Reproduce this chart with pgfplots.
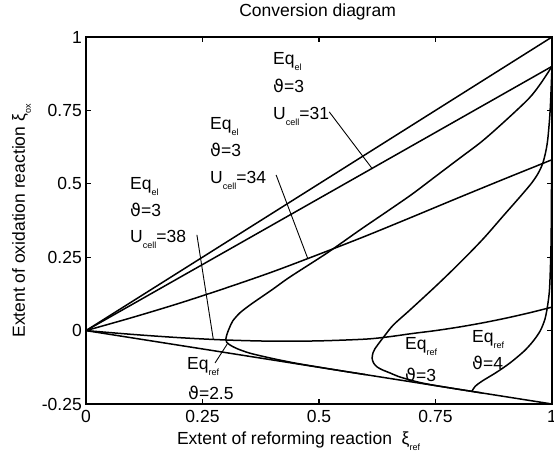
\documentclass[border=0pt]{standalone}
\usepackage{pgfplots}
\pgfplotsset{compat=1.18}
\usepackage{fontspec}
\setmainfont{Liberation Sans}
\newfontfamily\dv{DejaVu Sans}
\newcommand{\sub}[1]{\raisebox{-6bp}{\fontsize{9bp}{9bp}\selectfont #1}}
\newcommand{\vt}{{\dv ϑ}}
\begin{document}
\begin{tikzpicture}[font=\fontsize{17.5bp}{21bp}\selectfont]
\begin{axis}[
  at={(86bp,55bp)}, anchor=south west, scale only axis,
  width=466bp, height=367bp,
  xmin=0, xmax=1, ymin=-0.25, ymax=1,
  xtick={0,0.25,0.5,0.75,1}, xticklabels={0,0.25,0.5,0.75,1},
  ytick={-0.25,0,0.25,0.5,0.75,1}, yticklabels={-0.25,0,0.25,0.5,0.75,1},
  tick align=inside, major tick length=5bp,
  every tick/.style={black, line width=1.2bp},
  axis line style={line width=1.2bp},
  xticklabel style={inner sep=0pt, yshift=-6bp},
  yticklabel style={inner sep=0pt, xshift=-4bp},
  title={Conversion diagram},
  title style={at={(axis description cs:0.497,1.0395)}, anchor=base, inner sep=0pt},
  xlabel={Extent of reforming reaction\ \ ξ\sub{ref}},
  xlabel style={at={(axis description cs:0.195,-0.1117)}, anchor=base west, inner sep=0pt},
  ylabel={Extent of oxidation reaction ξ\sub{ox}},
  ylabel style={at={(axis description cs:-0.1309,0.4986)}, anchor=base, inner sep=0pt},
  cycle list={{black, line width=1.5bp}},
  every axis plot/.append style={black, line width=1.5bp, no marks},
]
% Eq lines
\addplot[black, line width=1.5bp] coordinates {(0,0) (1,1)};
\addplot[black, line width=1.5bp] coordinates {(0,0) (1,0.9)};
\addplot[smooth] coordinates {(0,0) (0.1,0.045) (0.2,0.093) (0.3,0.145) (0.4,0.2) (0.5,0.26) (0.6,0.322) (0.7,0.387) (0.8,0.453) (0.9,0.518) (1,0.582)};
\addplot[smooth] coordinates {(0,0) (0.1,-0.013) (0.2,-0.024) (0.3,-0.032) (0.4,-0.036) (0.5,-0.035) (0.6,-0.029) (0.65,-0.021) (0.7,-0.01) (0.75,0.0) (0.8,0.012) (0.85,0.026) (0.9,0.042) (0.95,0.06) (1,0.08)};
\addplot[black, line width=1.5bp] coordinates {(0,0) (1,-0.25)};
% Eq ref, theta = 2.5
\addplot[smooth] coordinates {(0.6,-0.15) (0.55,-0.1375) (0.5,-0.1245) (0.45,-0.111) (0.4,-0.095) (0.352,-0.077) (0.325,-0.062) (0.31,-0.05) (0.302,-0.04) (0.3,-0.03) (0.303,-0.01) (0.308,0.01) (0.315,0.033) (0.33,0.06) (0.35,0.085) (0.367,0.104) (0.4,0.14) (0.438,0.183) (0.517,0.264) (0.588,0.343) (0.65,0.41) (0.7,0.465) (0.75,0.525) (0.8,0.585) (0.85,0.645) (0.9,0.715) (0.95,0.79) (0.975,0.84) (1,0.9)};
% theta = 3
\addplot[smooth] coordinates {(0.85,-0.2125) (0.8,-0.2) (0.75,-0.187) (0.72,-0.178) (0.695,-0.168) (0.67,-0.156) (0.652,-0.144) (0.635,-0.133) (0.624,-0.123) (0.617,-0.11) (0.614,-0.094) (0.616,-0.075) (0.62,-0.062) (0.63,-0.04) (0.642,-0.015) (0.66,0.02) (0.695,0.07) (0.753,0.155) (0.803,0.232) (0.852,0.312) (0.895,0.39) (0.931,0.455) (0.955,0.5) (0.97,0.535) (0.981,0.574) (0.99,0.64) (0.996,0.75) (1,0.9)};
% theta = 4
\addplot[smooth] coordinates {(0.828,-0.207) (0.835,-0.19) (0.85,-0.172) (0.88,-0.143) (0.91,-0.11) (0.94,-0.07) (0.96,-0.035) (0.975,0.0) (0.985,0.04) (0.991,0.09) (0.995,0.15) (0.998,0.3) (0.999,0.5) (1,0.7) (1,0.9)};
% leaders
\draw[line width=0.9bp] (axis cs:0.522,0.745) -- (axis cs:0.614,0.552);
\draw[line width=0.9bp] (axis cs:0.408,0.53) -- (axis cs:0.476,0.245);
\draw[line width=0.9bp] (axis cs:0.238,0.326) -- (axis cs:0.273,-0.028);
\draw[line width=0.9bp] (axis cs:0.303,-0.046) -- (axis cs:0.277,-0.110);
\end{axis}
\begin{scope}[every node/.style={anchor=base west, inner sep=0pt}]
\node at (273bp,394bp) {Eq\sub{el}};
\node at (273bp,366bp) {\vt=3};
\node at (273bp,339bp) {U\sub{cell}=31};
\node at (210bp,329bp) {Eq\sub{el}};
\node at (210bp,302bp) {\vt=3};
\node at (210bp,275bp) {U\sub{cell}=34};
\node at (130bp,269bp) {Eq\sub{el}};
\node at (130bp,242bp) {\vt=3};
\node at (130bp,216bp) {U\sub{cell}=38};
\node at (187bp,89bp) {Eq\sub{ref}};
\node at (188bp,59bp) {\vt=2.5};
\node at (405bp,109bp) {Eq\sub{ref}};
\node at (405bp,77bp) {\vt=3};
\node at (472bp,116bp) {Eq\sub{ref}};
\node at (472bp,89bp) {\vt=4};
\end{scope}
\pgfresetboundingbox
\path (0,0) rectangle (554bp,459bp);
\end{tikzpicture}
\end{document}
